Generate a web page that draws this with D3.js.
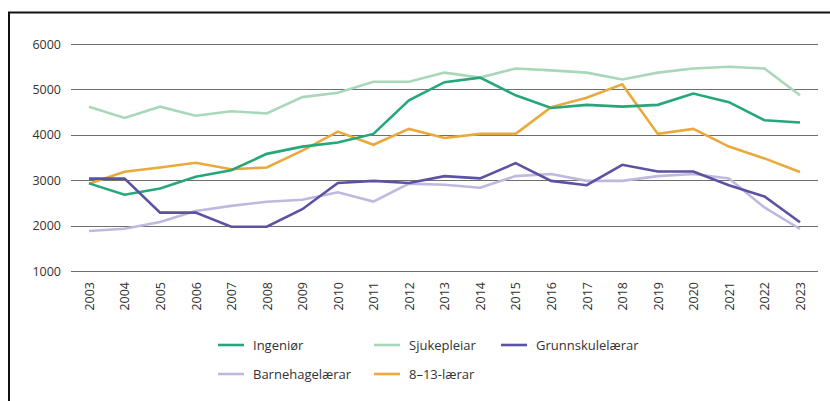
<!DOCTYPE html>
<html>
<head>
<meta charset="utf-8">
<script src="https://cdn.jsdelivr.net/npm/d3@7"></script>
<style>
  body { margin:0; background:#fff; }
  text { font-family:"Open Sans", "Noto Sans", sans-serif; fill:#333; }
</style>
</head>
<body>
<script>
// Søkjarar per år, fem utdanningar

var years = d3.range(2003, 2024);
var seriesNames = ['Ingeniør', 'Sjukepleiar', 'Grunnskulelærar', 'Barnehagelærar', '8–13-lærar'];
var ingenior = [2930, 2680, 2815, 3075, 3220, 3580, 3740, 3830, 4020, 4760, 5160, 5260, 4870, 4590, 4660, 4620, 4660, 4910, 4720, 4320, 4270];
var sjukepleiar = [4620, 4370, 4620, 4420, 4520, 4470, 4830, 4925, 5170, 5170, 5370, 5260, 5460, 5420, 5370, 5220, 5370, 5460, 5500, 5460, 4870];
var grunnskule = [3035, 3035, 2285, 2285, 1975, 1975, 2360, 2940, 2985, 2940, 3090, 3040, 3375, 2985, 2890, 3340, 3190, 3190, 2890, 2640, 2075];
var barnehage = [1880, 1930, 2080, 2320, 2435, 2525, 2570, 2735, 2530, 2925, 2900, 2835, 3090, 3135, 2985, 2985, 3090, 3135, 3040, 2400, 1925];
var laerar813 = [2920, 3185, 3280, 3385, 3240, 3280, 3650, 4070, 3780, 4130, 3930, 4020, 4020, 4610, 4815, 5110, 4020, 4130, 3740, 3480, 3180];
var yTicks = [1000, 2000, 3000, 4000, 5000, 6000];
var colors = ['#25a77a', '#a8d8b9', '#5b52a3', '#c0b8dd', '#e9a93b'];

var allSeries = [ingenior, sjukepleiar, grunnskule, barnehage, laerar813];
// draw order: light ones underneath
var drawOrder = [1, 3, 4, 0, 2];

var outerWidth = 830,
    outerHeight = 401;

var svg = d3.select('body').append('svg')
  .attr('width', outerWidth)
  .attr('height', outerHeight);

// frame (top + left only, as in the cropped original)
svg.append('path')
  .attr('d', 'M9,401 V12.5 H830')
  .attr('fill', 'none')
  .attr('stroke', '#111')
  .attr('stroke-width', 2);

var xScale = d3.scalePoint().domain(years).range([89, 800]);
var yScale = d3.scaleLinear().domain([1000, 6000]).range([271, 44]);

// gridlines
var grid = svg.append('g');
grid.selectAll('line').data(yTicks).enter().append('line')
  .attr('x1', 71).attr('x2', 818)
  .attr('y1', function(d){ return Math.round(yScale(d)) + 0.5; })
  .attr('y2', function(d){ return Math.round(yScale(d)) + 0.5; })
  .attr('stroke', '#6e6e6e')
  .attr('stroke-width', 1);

// y axis labels
var yAxis = d3.axisLeft(yScale).tickValues(yTicks).tickSize(0).tickPadding(0).tickFormat(d3.format('d'));
svg.append('g')
  .attr('transform', 'translate(61,0)')
  .call(yAxis)
  .call(function(g){ g.select('.domain').remove(); })
  .selectAll('text')
    .attr('font-size', 12.5)
    .style('font-family', '"Open Sans", "Noto Sans", sans-serif')
    .attr('fill', '#333');

// x axis labels, rotated
var xAxis = d3.axisBottom(xScale).tickSize(0).tickPadding(0);
svg.append('g')
  .attr('transform', 'translate(0,281)')
  .call(xAxis)
  .call(function(g){ g.select('.domain').remove(); })
  .selectAll('text')
    .attr('font-size', 12.5)
    .style('font-family', '"Open Sans", "Noto Sans", sans-serif')
    .attr('fill', '#333')
    .attr('transform', 'rotate(-90)')
    .attr('text-anchor', 'end')
    .attr('x', -1)
    .attr('y', 0)
    .attr('dy', '0.35em');

var line = d3.line()
  .x(function(d, i){ return xScale(years[i]); })
  .y(function(d){ return yScale(d); });

var lines = svg.append('g');
drawOrder.forEach(function(k){
  lines.append('path')
    .datum(allSeries[k])
    .attr('d', line)
    .attr('fill', 'none')
    .attr('stroke', colors[k])
    .attr('stroke-width', 2.6)
    .attr('stroke-linejoin', 'miter');
});

// legend
var legendPos = [
  {x:218, y:345}, {x:374, y:345}, {x:501, y:345},
  {x:218, y:374}, {x:374, y:374}
];
var legend = svg.append('g');
var items = legend.selectAll('g').data(seriesNames).enter().append('g')
  .attr('transform', function(d, i){ return 'translate(' + legendPos[i].x + ',' + legendPos[i].y + ')'; });
items.append('line')
  .attr('x1', 0).attr('x2', 26).attr('y1', 0).attr('y2', 0)
  .attr('stroke', function(d, i){ return colors[i]; })
  .attr('stroke-width', 2.6);
items.append('text')
  .attr('x', 35).attr('y', 0).attr('dy', '0.35em')
  .attr('font-size', 13)
  .text(function(d){ return d; });
</script>
</body>
</html>
